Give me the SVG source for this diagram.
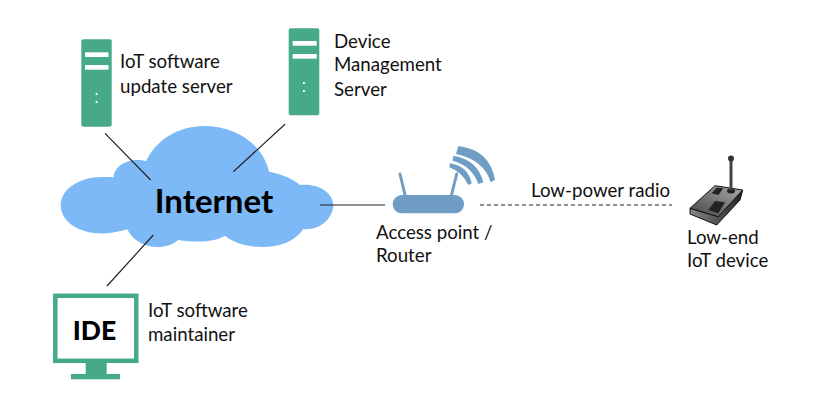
<svg xmlns="http://www.w3.org/2000/svg" width="828" height="402" viewBox="0 0 828 402">
<style>
text{font-family:"Lato","Open Sans",sans-serif;font-size:18.7px;fill:#111}
.b{font-weight:700;fill:#000}
.srv{fill:#45a98a}
.w{fill:#fff}
.r{fill:#709dc4}
.c{stroke:#222;stroke-width:1.2;fill:none}
</style>
<defs>
<linearGradient id="dev" x1="0" y1="0" x2="1" y2="0"><stop offset="0" stop-color="#888"/><stop offset="1" stop-color="#222"/></linearGradient>
<linearGradient id="devtop" x1="0" y1="1" x2="1" y2="0"><stop offset="0" stop-color="#444"/><stop offset="1" stop-color="#aaa"/></linearGradient>
</defs>
<rect width="828" height="402" fill="#fff"/>
<g id="internet">
<path fill="#7db9f7" d="M114 177.3C113 168 125 160 137 160C140 160 144 160.5 146 161.3C156 140 178 126 204 126C237 126 263 145 269 171.7C282 174 293 179 300 185C319 183 333 193 333.3 205C333 219 319 231 303.3 229C295 242 278 247 263 247C248 247 234 243 225 235.7C218 240 208 241.5 200 241.5C192 241.5 184 241 178.3 240C172 245 165 247 158 247C144 247 132 240 127.3 229.3C118 232 110 233.5 102 233.5C78 233.5 60.7 221 60.7 205C60.7 190 78 177 102 177C106 177 110 177 114 177.3Z"/>
<text class="b" x="214" y="213" text-anchor="middle" style="font-size:33px">Internet</text>
</g>
<g id="connectors">
<path class="c" d="M105 133.3L150.7 180"/>
<path class="c" d="M285 124.3L233.3 171.7"/>
<path class="c" d="M153.3 235L107 286"/>
<path class="c" d="M320 205H385"/>
<path class="c" d="M480 205H672" stroke-dasharray="4 3"/>
</g>
<g id="update-server">
<rect class="srv" x="81.3" y="39.3" width="30.4" height="87.5" rx="2"/>
<rect class="w" x="85" y="52.3" width="23.5" height="4.7"/>
<rect class="w" x="85" y="65" width="23.5" height="4.7"/>
<rect class="w" x="95.7" y="93" width="1.8" height="2"/>
<rect class="w" x="95.7" y="101" width="1.8" height="2"/>
<text x="120" y="68">IoT software</text>
<text x="120" y="92.500">update server</text>
</g>
<g id="management-server">
<rect class="srv" x="288.7" y="28.300" width="30.600" height="87" rx="2"/>
<rect class="w" x="292.700" y="41" width="24" height="4.700"/>
<rect class="w" x="292.700" y="54" width="24" height="4.700"/>
<rect class="w" x="303" y="82" width="1.800" height="2"/>
<rect class="w" x="303" y="90" width="1.800" height="2"/>
<text x="334" y="47.500">Device</text>
<text x="334" y="71">Management</text>
<text x="334" y="95.500">Server</text>
</g>
<g id="ide">
<rect x="55.300" y="295.800" width="81" height="65" fill="#fff" stroke="#45a98a" stroke-width="4.500"/>
<rect class="srv" x="85.700" y="363" width="21" height="12"/>
<rect class="srv" x="71" y="374" width="49" height="5.300"/>
<text class="b" x="94.500" y="340" text-anchor="middle" style="font-size:26.500px;font-weight:900">IDE</text>
<text x="148" y="317">IoT software</text>
<text x="148" y="341">maintainer</text>
</g>
<g id="router">
<rect class="r" x="392.700" y="195" width="71.300" height="18.300" rx="9"/>
<path d="M400 174L405.500 197M456.700 174L451 197" stroke="#709dc4" stroke-width="3" stroke-linecap="round" fill="none"/>
<path class="r" d="M458.300 146Q490 150 495 180L490.700 182.300Q484 160 456 154Z"/>
<path class="r" d="M453.300 155.700Q478 160 483.300 182.300L478.300 184Q472 166 452.700 160.700Z"/>
<path class="r" d="M450 163.300Q468 166 471.700 183.300L468.300 185Q462 172 449.300 167.300Z"/>
<text x="376" y="238.500">Access point /</text>
<text x="376" y="261.500">Router</text>
</g>
<text id="radio-label" x="531" y="196.500">Low-power radio</text>
<g id="device">
<path fill="url(#dev)" stroke="#111" d="M690 208.300L718.300 216.700L742.700 190L740 200L716.700 225L690 214Z"/>
<path fill="url(#devtop)" stroke="#111" d="M690 208.300L715 185.700L742.700 190L718.300 216.700Z"/>
<path fill="#222" d="M711.700 193.300L716.700 187.700L723.300 188.300L718.300 195Z"/>
<path fill="#222" d="M708.300 210L715 201L725 202.300L718.300 213.300Z"/>
<ellipse cx="731" cy="191" rx="4" ry="2.500" fill="#222"/>
<path d="M731 158.300V190" stroke="#444" stroke-width="3"/>
<circle cx="731" cy="158.500" r="3" fill="#333"/>
<text x="687" y="243.500">Low-end</text>
<text x="687" y="266.500">IoT device</text>
</g>
</svg>
